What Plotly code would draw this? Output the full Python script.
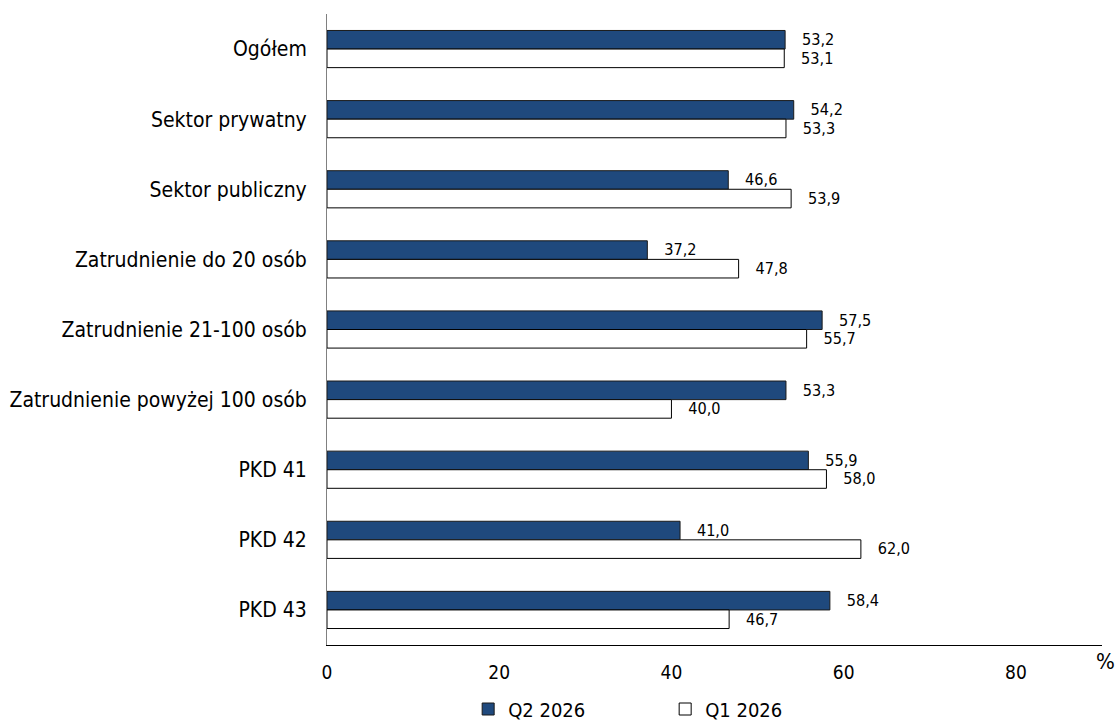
import plotly.graph_objects as go

categories = ["Ogółem", "Sektor prywatny", "Sektor publiczny", "Zatrudnienie do 20 osób",
              "Zatrudnienie 21-100 osób", "Zatrudnienie powyżej 100 osób",
              "PKD 41", "PKD 42", "PKD 43"]
q2_2026 = [53.2, 54.2, 46.6, 37.2, 57.5, 53.3, 55.9, 41.0, 58.4]
q1_2026 = [53.1, 53.3, 53.9, 47.8, 55.7, 40.0, 58.0, 62.0, 46.7]
tick_vals = [0, 20, 40, 60, 80]

FONT = "DejaVu Sans Condensed, DejaVu Sans"
PAD = "\u00a0\u00a0\u00a0"

def fmt(v):
    return PAD + f"{v:.1f}".replace(".", ",")

fig = go.Figure()
fig.add_trace(go.Bar(
    y=categories, x=q2_2026, orientation="h", name="Q2 2026",
    marker=dict(color="#1F497D", line=dict(color="#1a1a1a", width=1)),
    text=[fmt(v) for v in q2_2026], textposition="outside",
    textfont=dict(size=16.5, color="#000000"), cliponaxis=False,
))
fig.add_trace(go.Bar(
    y=categories, x=q1_2026, orientation="h", name="Q1 2026",
    marker=dict(color="#FFFFFF", line=dict(color="#000000", width=1)),
    text=[fmt(v) for v in q1_2026], textposition="outside",
    textfont=dict(size=16.5, color="#000000"), cliponaxis=False,
))

fig.update_layout(
    width=1120, height=722,
    margin=dict(l=327, r=18, t=14, b=77, autoexpand=False),
    barmode="group", bargap=0.47, bargroupgap=0,
    plot_bgcolor="white", paper_bgcolor="white",
    font=dict(family=FONT, size=16, color="#000000"),
    legend=dict(orientation="h", xref="container", yref="container",
                x=0.418, xanchor="left", y=0.018, yanchor="middle",
                font=dict(size=20), traceorder="normal", itemwidth=30,
                entrywidth=152, entrywidthmode="pixels"),
    xaxis=dict(range=[0, 90], tickvals=tick_vals, showgrid=False, zeroline=False,
               showline=True, linecolor="#000000", linewidth=1, automargin=False,
               ticks="", tickfont=dict(size=19), ticklabelstandoff=10),
    yaxis=dict(autorange="reversed", showgrid=False, showline=True,
               linecolor="#808080", linewidth=1, ticks="", automargin=False,
               tickfont=dict(size=21), ticklabelstandoff=15),
    annotations=[dict(text="%", x=1.0039, xref="paper", y=-0.0254, yref="paper",
                      xanchor="center", yanchor="middle",
                      showarrow=False, font=dict(size=22))],
)

fig.write_html("out.html", config={"displayModeBar": False},
               post_script="document.body.style.margin='0';")
